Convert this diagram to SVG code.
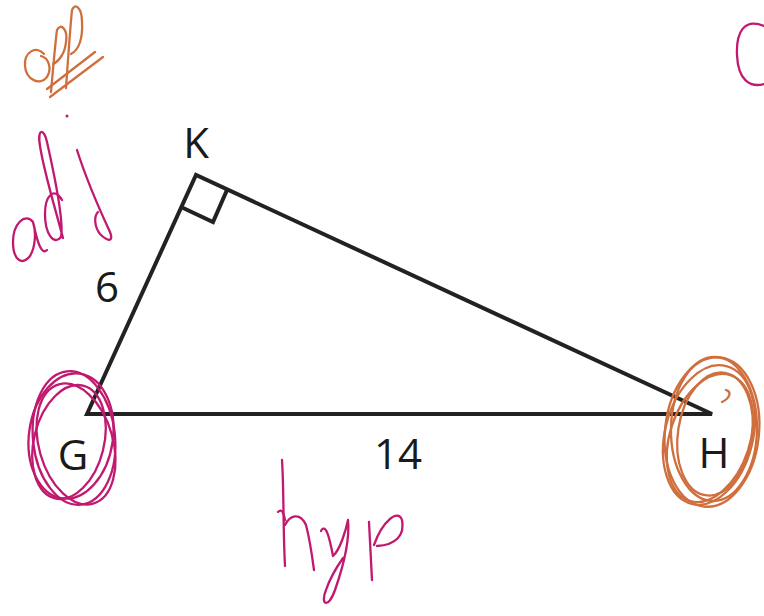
<svg xmlns="http://www.w3.org/2000/svg" width="764" height="616" viewBox="0 0 764 616">
<style>
.ln{fill:none;stroke:#222;stroke-width:4;stroke-linejoin:miter}
.lbl{font-family:"Open Sans","Liberation Sans",sans-serif;font-size:42px;fill:#1a1a1a;text-anchor:middle}
.mg{fill:none;stroke:#C0196F;stroke-width:2.3;stroke-linecap:round;stroke-linejoin:round}
.or{fill:none;stroke:#D06F3E;stroke-width:2.3;stroke-linecap:round;stroke-linejoin:round}
</style>
<rect width="764" height="616" fill="#fff"/>
<g id="triangle">
<path class="ln" d="M87,414 L196,175 L712,414 Z"/>
<path class="ln" d="M227,190 L213,222 L181,207"/>
</g>
<g id="labels">
<text class="lbl" x="196" y="158">K</text>
<text class="lbl" x="107" y="302">6</text>
<text class="lbl" x="73" y="470">G</text>
<text class="lbl" x="714" y="468">H</text>
<text class="lbl" x="398" y="469">14</text>
</g>
<g id="opp">
<path class="or" d="M44,54 C36,45 24,52 25,66 C26,80 40,86 47,77 C52,69 49,58 41,56"/>
<path class="or" d="M51,92 C53,70 55,45 57,30 C61,22 68,30 66,42 C65,54 58,62 53,64"/>
<path class="or" d="M66,88 C68,60 70,30 72,10 C75,2 82,8 82,22 C83,38 79,50 71,54"/>
<path class="or" d="M50,97 L103,57"/>
<path class="or" d="M47,89 L95,52"/>
</g>
<g id="dot"><circle cx="67" cy="116" r="1.5" fill="#C0196F"/></g>
<g id="adj">
<path class="mg" d="M33,222 C25,212 13,224 13,242 C13,260 22,266 30,256 C36,246 36,230 33,222 C37,240 41,256 47,250"/>
<path class="mg" d="M62,200 C54,186 45,196 45,214 C45,234 54,246 61,237 C64,222 56,182 47,142 C44,128 37,128 40,146 C44,172 54,204 63,238"/>
<path class="mg" d="M77,150 C84,172 96,202 110,232 C114,242 108,242 100,234 C94,226 94,216 98,212"/>
</g>
<g id="hyp">
<path class="mg" d="M282,460 C284,490 283,530 285,566"/>
<path class="mg" d="M278,512 C282,508 284,514 285,520"/>
<path class="mg" d="M285,525 C290,515 300,512 306,525 C310,540 312,555 314,570"/>
<path class="mg" d="M321,531 C326,522 330,540 333,556 C340,550 346,530 348,520 C350,540 342,570 335,590 C328,610 320,604 326,590 C330,578 336,568 343,558"/>
<path class="mg" d="M369,522 C370,540 371,560 372,580"/>
<path class="mg" d="M374,545 C382,522 398,508 402,520 C405,535 396,545 377,546"/>
</g>
<g id="circleG">
<ellipse class="mg" cx="74" cy="438" rx="41" ry="67" transform="rotate(-6 74 438)"/>
<ellipse class="mg" cx="71" cy="436" rx="42" ry="63" transform="rotate(8 71 436)"/>
<ellipse class="mg" cx="76" cy="444" rx="37" ry="62" transform="rotate(-16 76 444)"/>
<ellipse class="mg" cx="69" cy="442" rx="35" ry="58" transform="rotate(14 69 442)"/>
</g>
<g id="circleH">
<ellipse class="or" cx="712" cy="432" rx="47" ry="75" transform="rotate(6 712 432)"/>
<ellipse class="or" cx="709" cy="435" rx="44" ry="71" transform="rotate(14 709 435)"/>
<ellipse class="or" cx="714" cy="429" rx="43" ry="72" transform="rotate(1 714 429)"/>
<ellipse class="or" cx="710" cy="438" rx="40" ry="66" transform="rotate(18 710 438)"/>
<ellipse class="or" cx="715" cy="434" rx="37" ry="62" transform="rotate(9 715 434)"/>
<path class="or" d="M722,402 C730,398 732,392 726,390"/>
</g>
<g id="paren">
<path class="mg" d="M764,26 C744,18 736,32 737,55 C738,80 750,88 764,84"/>
</g>
</svg>
